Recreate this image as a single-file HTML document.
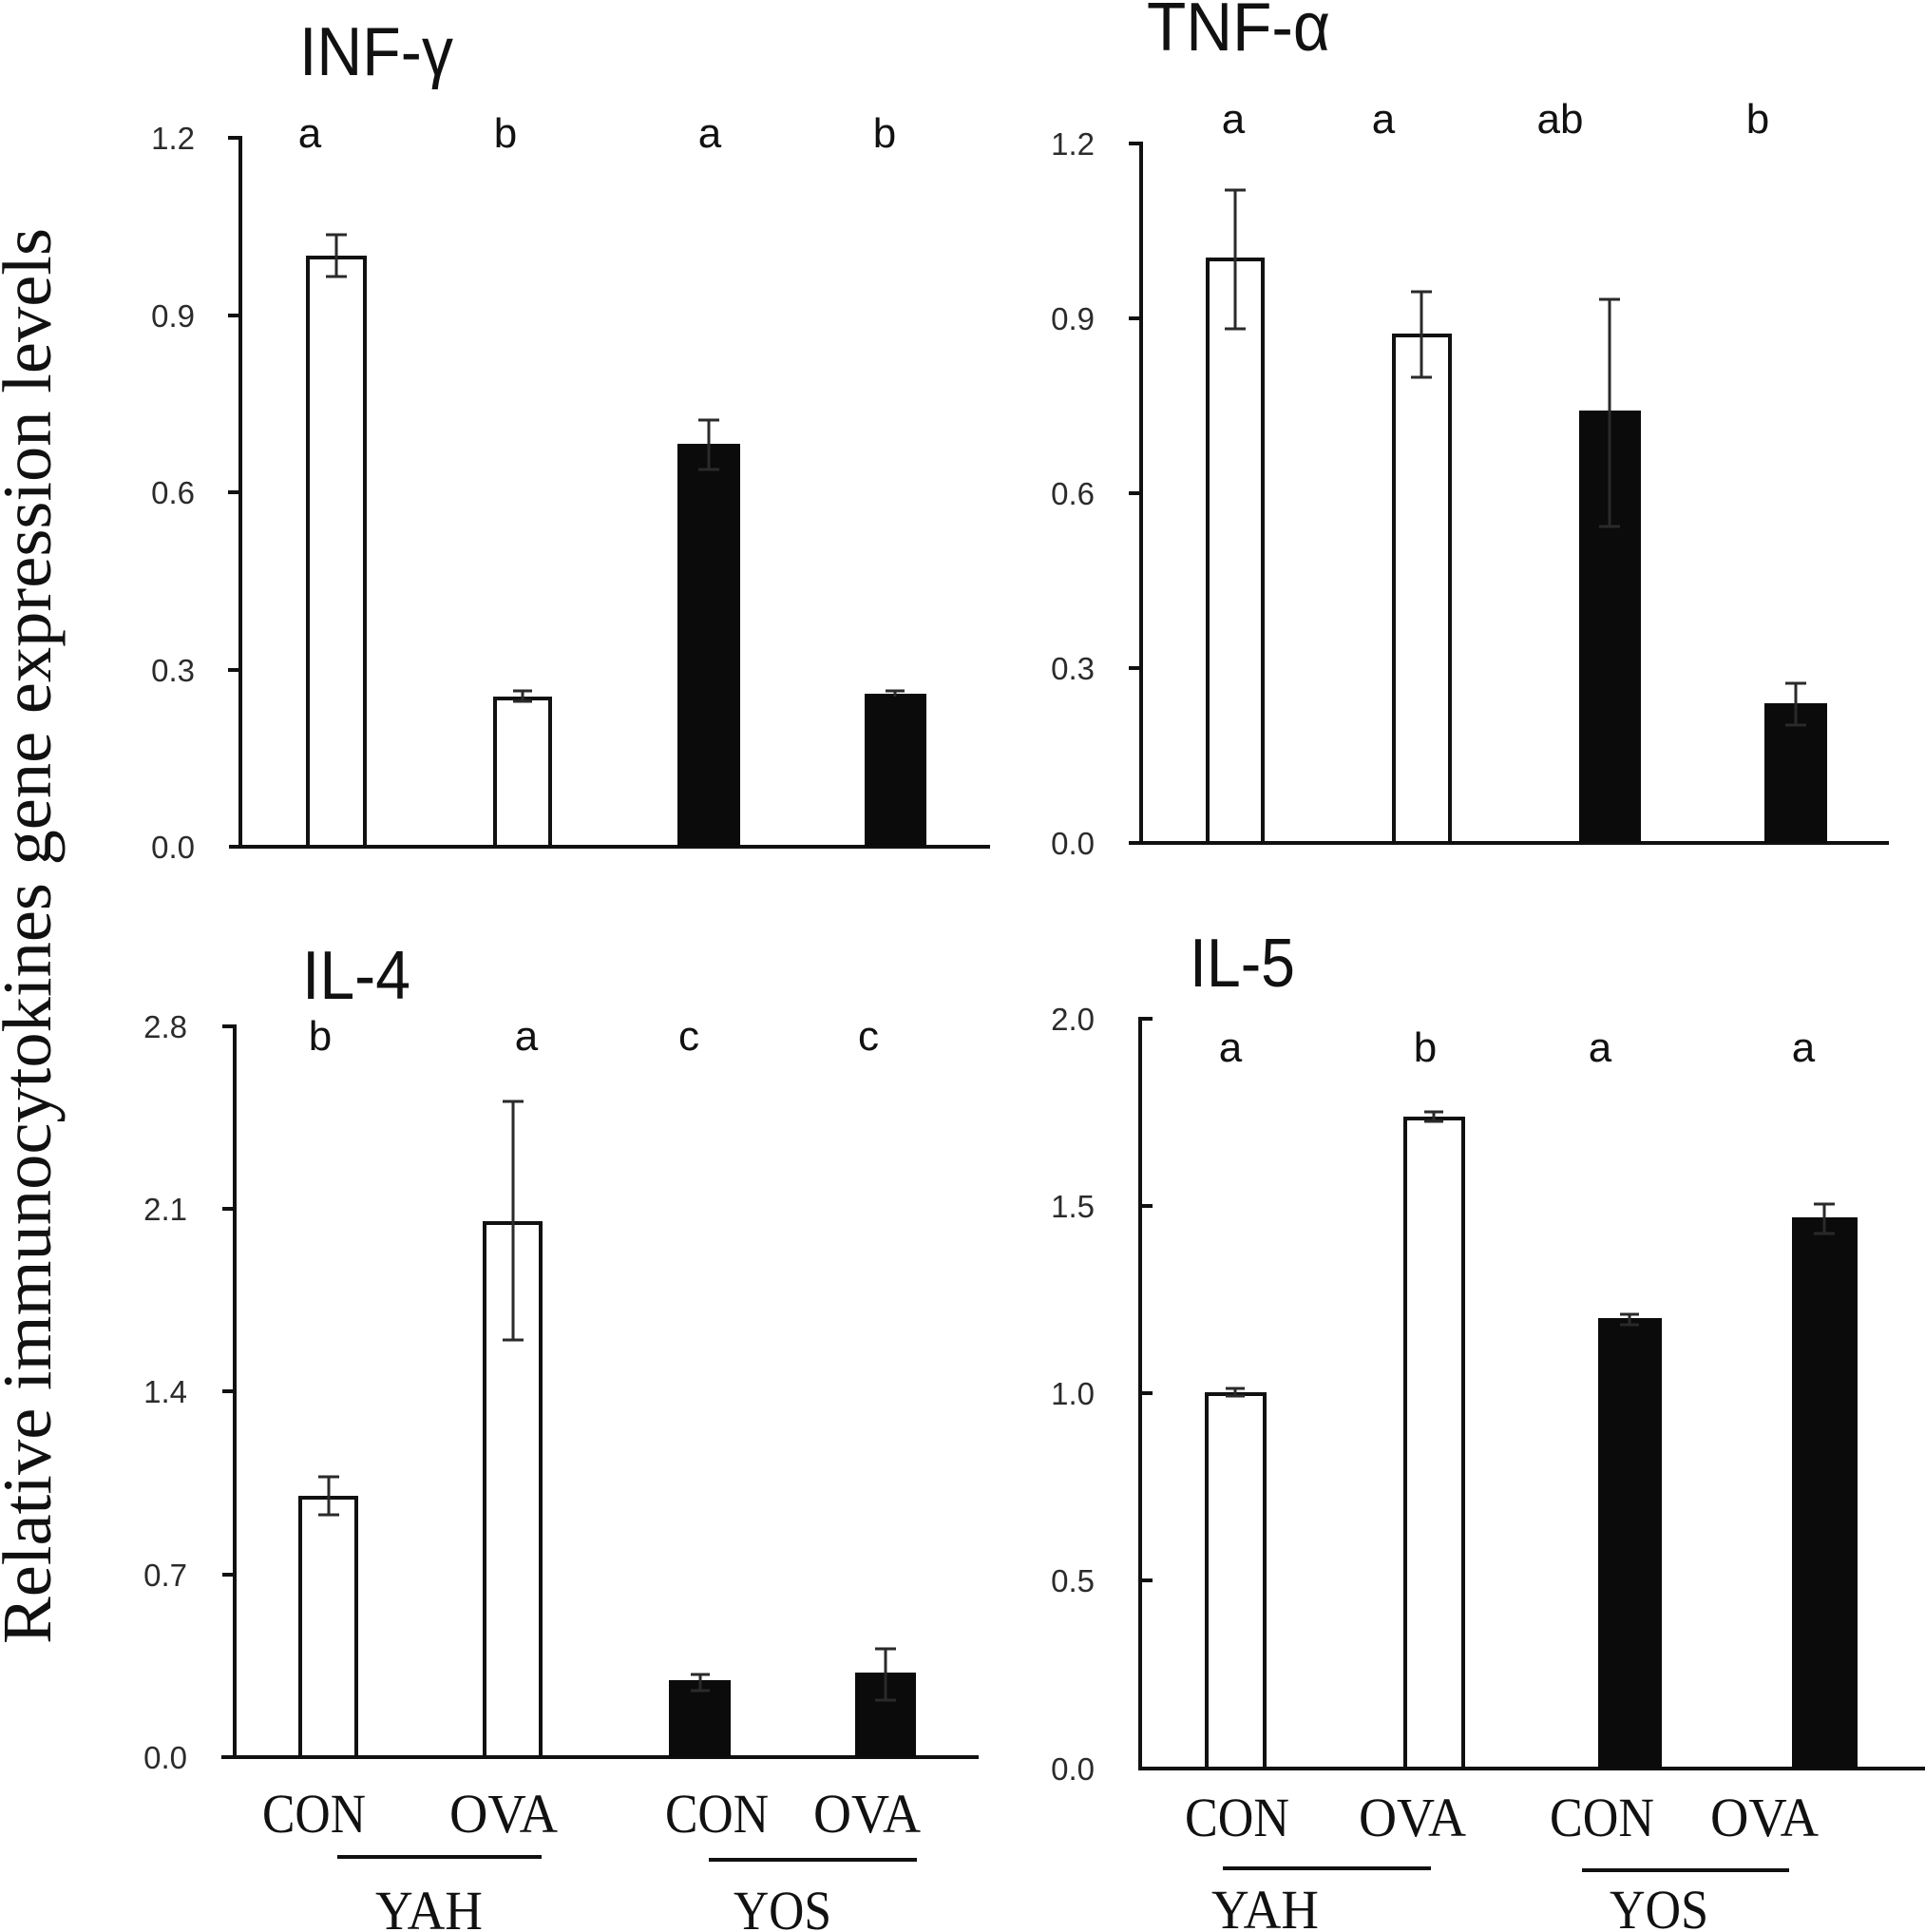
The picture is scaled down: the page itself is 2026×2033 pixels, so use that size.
<!DOCTYPE html>
<html>
<head>
<meta charset="utf-8">
<style>
  html, body { margin: 0; padding: 0; background: #ffffff; }
  svg { display: block; }
  .tick { font-family: "Liberation Sans", sans-serif; font-size: 33px; fill: #2b2b2b; }
  .let { font-family: "Liberation Sans", sans-serif; font-size: 44px; fill: #111; }
  .ttl { font-family: "Liberation Sans", sans-serif; font-size: 72px; fill: #111; }
  .cat { font-family: "Liberation Serif", serif; font-size: 58px; fill: #111; }
  .ylab { font-family: "Liberation Serif", serif; font-size: 73px; fill: #111; }
</style>
</head>
<body>
<svg width="2026" height="2033" viewBox="0 0 2026 2033" xmlns="http://www.w3.org/2000/svg">
  <rect x="0" y="0" width="2026" height="2033" fill="#ffffff"/>

  <!-- Y axis label -->
  <text class="ylab" transform="translate(53,985) rotate(-90)" text-anchor="middle" textLength="1490" lengthAdjust="spacingAndGlyphs">Relative immunocytokines gene expression levels</text>

  <!-- ================= INF-γ ================= -->
  <text class="ttl" x="315" y="79" textLength="162" lengthAdjust="spacingAndGlyphs">INF-γ</text>
  <g stroke="#111" stroke-width="4" fill="none">
    <line x1="253" y1="143" x2="253" y2="893"/>
    <line x1="241" y1="891" x2="1042" y2="891"/>
    <line x1="240" y1="145" x2="253" y2="145"/>
    <line x1="240" y1="332" x2="253" y2="332"/>
    <line x1="240" y1="518" x2="253" y2="518"/>
    <line x1="240" y1="705" x2="253" y2="705"/>
  </g>
  <g text-anchor="end">
    <text class="tick" x="205" y="157">1.2</text>
    <text class="tick" x="205" y="344">0.9</text>
    <text class="tick" x="205" y="530">0.6</text>
    <text class="tick" x="205" y="717">0.3</text>
    <text class="tick" x="205" y="903">0.0</text>
  </g>
  <!-- bars -->
  <rect x="324" y="271" width="60" height="620" fill="#fff" stroke="#111" stroke-width="4"/>
  <rect x="521" y="735" width="58" height="156" fill="#fff" stroke="#111" stroke-width="4"/>
  <rect x="713" y="467" width="66" height="424" fill="#0b0b0b"/>
  <rect x="910" y="730" width="65" height="161" fill="#0b0b0b"/>
  <!-- error bars -->
  <g stroke="#2a2a2a" stroke-width="3">
    <line x1="354" y1="247" x2="354" y2="291"/><line x1="343" y1="247" x2="365" y2="247"/><line x1="343" y1="291" x2="365" y2="291"/>
    <line x1="550" y1="727" x2="550" y2="738"/><line x1="540" y1="727" x2="560" y2="727"/><line x1="540" y1="738" x2="560" y2="738"/>
    <line x1="746" y1="442" x2="746" y2="494"/><line x1="735" y1="442" x2="757" y2="442"/><line x1="735" y1="494" x2="757" y2="494"/>
    <line x1="942" y1="727" x2="942" y2="733"/><line x1="932" y1="727" x2="952" y2="727"/>
  </g>
  <g text-anchor="middle">
    <text class="let" x="326" y="155">a</text>
    <text class="let" x="532" y="155">b</text>
    <text class="let" x="747" y="155">a</text>
    <text class="let" x="931" y="155">b</text>
  </g>

  <!-- ================= TNF-α ================= -->
  <text class="ttl" x="1207" y="53" textLength="193" lengthAdjust="spacingAndGlyphs">TNF-α</text>
  <g stroke="#111" stroke-width="4" fill="none">
    <line x1="1201" y1="149" x2="1201" y2="889"/>
    <line x1="1188" y1="887" x2="1988" y2="887"/>
    <line x1="1188" y1="151" x2="1201" y2="151"/>
    <line x1="1188" y1="335" x2="1201" y2="335"/>
    <line x1="1188" y1="519" x2="1201" y2="519"/>
    <line x1="1188" y1="703" x2="1201" y2="703"/>
  </g>
  <g text-anchor="end">
    <text class="tick" x="1152" y="163">1.2</text>
    <text class="tick" x="1152" y="347">0.9</text>
    <text class="tick" x="1152" y="531">0.6</text>
    <text class="tick" x="1152" y="715">0.3</text>
    <text class="tick" x="1152" y="899">0.0</text>
  </g>
  <rect x="1271" y="273" width="58" height="614" fill="#fff" stroke="#111" stroke-width="4"/>
  <rect x="1467" y="353" width="59" height="534" fill="#fff" stroke="#111" stroke-width="4"/>
  <rect x="1662" y="432" width="65" height="455" fill="#0b0b0b"/>
  <rect x="1857" y="740" width="66" height="147" fill="#0b0b0b"/>
  <g stroke="#2a2a2a" stroke-width="3">
    <line x1="1300" y1="200" x2="1300" y2="346"/><line x1="1289" y1="200" x2="1311" y2="200"/><line x1="1289" y1="346" x2="1311" y2="346"/>
    <line x1="1496" y1="307" x2="1496" y2="397"/><line x1="1485" y1="307" x2="1507" y2="307"/><line x1="1485" y1="397" x2="1507" y2="397"/>
    <line x1="1694" y1="315" x2="1694" y2="554"/><line x1="1683" y1="315" x2="1705" y2="315"/><line x1="1683" y1="554" x2="1705" y2="554"/>
    <line x1="1890" y1="719" x2="1890" y2="763"/><line x1="1879" y1="719" x2="1901" y2="719"/><line x1="1879" y1="763" x2="1901" y2="763"/>
  </g>
  <g text-anchor="middle">
    <text class="let" x="1298" y="140">a</text>
    <text class="let" x="1456" y="140">a</text>
    <text class="let" x="1642" y="140">ab</text>
    <text class="let" x="1850" y="140">b</text>
  </g>

  <!-- ================= IL-4 ================= -->
  <text class="ttl" x="318" y="1051" textLength="114" lengthAdjust="spacingAndGlyphs">IL-4</text>
  <g stroke="#111" stroke-width="4" fill="none">
    <line x1="247" y1="1078" x2="247" y2="1851"/>
    <line x1="233" y1="1849" x2="1030" y2="1849"/>
    <line x1="234" y1="1080" x2="247" y2="1080"/>
    <line x1="234" y1="1272" x2="247" y2="1272"/>
    <line x1="234" y1="1464" x2="247" y2="1464"/>
    <line x1="234" y1="1657" x2="247" y2="1657"/>
  </g>
  <g text-anchor="end">
    <text class="tick" x="197" y="1092">2.8</text>
    <text class="tick" x="197" y="1284">2.1</text>
    <text class="tick" x="197" y="1476">1.4</text>
    <text class="tick" x="197" y="1669">0.7</text>
    <text class="tick" x="197" y="1861">0.0</text>
  </g>
  <rect x="316" y="1576" width="59" height="273" fill="#fff" stroke="#111" stroke-width="4"/>
  <rect x="510" y="1287" width="59" height="562" fill="#fff" stroke="#111" stroke-width="4"/>
  <rect x="704" y="1768" width="65" height="81" fill="#0b0b0b"/>
  <rect x="900" y="1760" width="64" height="89" fill="#0b0b0b"/>
  <g stroke="#2a2a2a" stroke-width="3">
    <line x1="346" y1="1554" x2="346" y2="1594"/><line x1="335" y1="1554" x2="357" y2="1554"/><line x1="335" y1="1594" x2="357" y2="1594"/>
    <line x1="540" y1="1159" x2="540" y2="1410"/><line x1="529" y1="1159" x2="551" y2="1159"/><line x1="529" y1="1410" x2="551" y2="1410"/>
    <line x1="737" y1="1762" x2="737" y2="1779"/><line x1="727" y1="1762" x2="747" y2="1762"/><line x1="727" y1="1779" x2="747" y2="1779"/>
    <line x1="932" y1="1735" x2="932" y2="1789"/><line x1="921" y1="1735" x2="943" y2="1735"/><line x1="921" y1="1789" x2="943" y2="1789"/>
  </g>
  <g text-anchor="middle">
    <text class="let" x="337" y="1105">b</text>
    <text class="let" x="554" y="1105">a</text>
    <text class="let" x="725" y="1105">c</text>
    <text class="let" x="914" y="1105">c</text>
  </g>
  <text class="cat" x="276" y="1928" textLength="109" lengthAdjust="spacingAndGlyphs">CON</text>
  <text class="cat" x="473" y="1928" textLength="114" lengthAdjust="spacingAndGlyphs">OVA</text>
  <text class="cat" x="700" y="1928" textLength="109" lengthAdjust="spacingAndGlyphs">CON</text>
  <text class="cat" x="856" y="1928" textLength="113" lengthAdjust="spacingAndGlyphs">OVA</text>
  <g stroke="#111" stroke-width="4">
    <line x1="355" y1="1954" x2="570" y2="1954"/>
    <line x1="746" y1="1957" x2="965" y2="1957"/>
  </g>
  <text class="cat" x="395" y="2030" textLength="113" lengthAdjust="spacingAndGlyphs">YAH</text>
  <text class="cat" x="772" y="2030" textLength="103" lengthAdjust="spacingAndGlyphs">YOS</text>

  <!-- ================= IL-5 ================= -->
  <text class="ttl" x="1252" y="1038" textLength="111" lengthAdjust="spacingAndGlyphs">IL-5</text>
  <g stroke="#111" stroke-width="4" fill="none">
    <line x1="1200" y1="1070" x2="1200" y2="1863"/>
    <line x1="1198" y1="1861" x2="2026" y2="1861"/>
    <line x1="1200" y1="1072" x2="1213" y2="1072"/>
    <line x1="1200" y1="1269" x2="1213" y2="1269"/>
    <line x1="1200" y1="1466" x2="1213" y2="1466"/>
    <line x1="1200" y1="1663" x2="1213" y2="1663"/>
  </g>
  <g text-anchor="end">
    <text class="tick" x="1152" y="1084">2.0</text>
    <text class="tick" x="1152" y="1281">1.5</text>
    <text class="tick" x="1152" y="1478">1.0</text>
    <text class="tick" x="1152" y="1675">0.5</text>
    <text class="tick" x="1152" y="1873">0.0</text>
  </g>
  <rect x="1270" y="1467" width="61" height="394" fill="#fff" stroke="#111" stroke-width="4"/>
  <rect x="1479" y="1177" width="61" height="684" fill="#fff" stroke="#111" stroke-width="4"/>
  <rect x="1682" y="1387" width="67" height="474" fill="#0b0b0b"/>
  <rect x="1886" y="1281" width="69" height="580" fill="#0b0b0b"/>
  <g stroke="#2a2a2a" stroke-width="3">
    <line x1="1300" y1="1461" x2="1300" y2="1469"/><line x1="1290" y1="1461" x2="1310" y2="1461"/><line x1="1290" y1="1469" x2="1310" y2="1469"/>
    <line x1="1509" y1="1170" x2="1509" y2="1180"/><line x1="1499" y1="1170" x2="1519" y2="1170"/><line x1="1499" y1="1180" x2="1519" y2="1180"/>
    <line x1="1715" y1="1383" x2="1715" y2="1394"/><line x1="1705" y1="1383" x2="1725" y2="1383"/><line x1="1705" y1="1394" x2="1725" y2="1394"/>
    <line x1="1920" y1="1267" x2="1920" y2="1298"/><line x1="1909" y1="1267" x2="1931" y2="1267"/><line x1="1909" y1="1298" x2="1931" y2="1298"/>
  </g>
  <g text-anchor="middle">
    <text class="let" x="1295" y="1117">a</text>
    <text class="let" x="1500" y="1117">b</text>
    <text class="let" x="1684" y="1117">a</text>
    <text class="let" x="1898" y="1117">a</text>
  </g>
  <text class="cat" x="1247" y="1932" textLength="110" lengthAdjust="spacingAndGlyphs">CON</text>
  <text class="cat" x="1430" y="1932" textLength="113" lengthAdjust="spacingAndGlyphs">OVA</text>
  <text class="cat" x="1631" y="1932" textLength="110" lengthAdjust="spacingAndGlyphs">CON</text>
  <text class="cat" x="1800" y="1932" textLength="114" lengthAdjust="spacingAndGlyphs">OVA</text>
  <g stroke="#111" stroke-width="4">
    <line x1="1287" y1="1966" x2="1506" y2="1966"/>
    <line x1="1665" y1="1968" x2="1883" y2="1968"/>
  </g>
  <text class="cat" x="1275" y="2029" textLength="113" lengthAdjust="spacingAndGlyphs">YAH</text>
  <text class="cat" x="1694" y="2029" textLength="104" lengthAdjust="spacingAndGlyphs">YOS</text>
</svg>
</body>
</html>
